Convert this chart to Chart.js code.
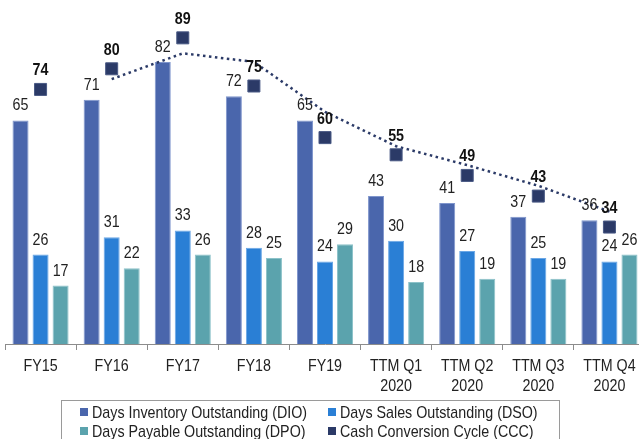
<!DOCTYPE html>
<html>
<head>
<meta charset="utf-8">
<script src="https://cdn.jsdelivr.net/npm/chart.js@4.4.0/dist/chart.umd.min.js"></script>
<style>
  html, body { margin: 0; padding: 0; background: #fff; overflow: hidden; }
  #wrap { width: 639px; height: 439px; overflow: hidden; }
</style>
</head>
<body>
<div id="wrap"><canvas id="ccc-chart" width="645" height="439"></canvas></div>
<script>
const categories = [["FY15"], ["FY16"], ["FY17"], ["FY18"], ["FY19"],
    ["TTM Q1", "2020"], ["TTM Q2", "2020"], ["TTM Q3", "2020"], ["TTM Q4", "2020"]];
const dioValues = [65, 71, 82, 72, 65, 43, 41, 37, 36];
const dsoValues = [26, 31, 33, 28, 24, 30, 27, 25, 24];
const dpoValues = [17, 22, 26, 25, 29, 18, 19, 19, 26];
const cccValues = [74, 80, 89, 75, 60, 55, 49, 43, 34];
// dotted trend (2 period moving average as drawn in the picture)
const cccTrend = [null, 77, 84.5, 82, 67.5, 57.5, 52, 46, 38.5];

const FONT = "'Liberation Sans', Arial, sans-serif";
const NARROW = 0.84; // no Arial Narrow here, so squeeze the text

function narrowText(ctx, text, x, y) {
    ctx.save();
    ctx.translate(x, y);
    ctx.scale(NARROW, 1);
    ctx.fillText(text, 0, 0);
    ctx.restore();
}

const valueLabels = {
    id: "valueLabels",
    afterDatasetsDraw(chart) {
        const ctx = chart.ctx;
        ctx.save();
        ctx.textAlign = "center";
        ctx.textBaseline = "alphabetic";
        chart.data.datasets.forEach((ds, i) => {
            if (ds.noLabels) return;
            const meta = chart.getDatasetMeta(i);
            meta.data.forEach((el, j) => {
                const v = ds.data[j];
                if (v == null) return;
                if (ds.type === "line") {
                    ctx.font = "bold 17px " + FONT;
                    ctx.fillStyle = "#111";
                    narrowText(ctx, String(v), el.x, el.y - 14);
                } else {
                    ctx.font = "17px " + FONT;
                    ctx.fillStyle = "#222";
                    narrowText(ctx, String(v), el.x, el.y - 10);
                }
            });
        });
        ctx.restore();
    }
};

const axisLabels = {
    id: "axisLabels",
    afterDraw(chart) {
        const ctx = chart.ctx;
        const xs = chart.scales.x;
        ctx.save();
        ctx.font = "17px " + FONT;
        ctx.fillStyle = "#222";
        ctx.textAlign = "center";
        ctx.textBaseline = "middle";
        chart.data.labels.forEach((lines, i) => {
            const x = xs.getPixelForValue(i);
            lines.forEach((t, k) => narrowText(ctx, t, x, 366 + k * 20));
        });
        ctx.restore();
    }
};

const boxLegend = {
    id: "boxLegend",
    afterDraw(chart) {
        const ctx = chart.ctx;
        ctx.save();
        ctx.strokeStyle = "#9a9a9a";
        ctx.lineWidth = 1;
        ctx.strokeRect(61.5, 400.5, 498, 60);
        const spots = [[80, 412], [328, 412], [80, 431], [328, 431]];
        ctx.font = "17px " + FONT;
        ctx.textBaseline = "middle";
        ctx.textAlign = "left";
        let k = 0;
        chart.data.datasets.forEach(ds => {
            if (ds.noLegend) return;
            const [x, y] = spots[k++];
            ctx.fillStyle = ds.legendColor;
            ctx.fillRect(x, y - 4, 8, 8);
            ctx.fillStyle = "#222";
            narrowText(ctx, ds.label, x + 12, y + 1);
        });
        ctx.restore();
    }
};

function initChart() {
    const ctx = document.getElementById("ccc-chart").getContext("2d");

    new Chart(ctx, {
        data: {
            labels: categories,
            datasets: [
                {
                    type: "bar",
                    label: "Days Inventory Outstanding (DIO)",
                    data: dioValues,
                    backgroundColor: "#4a66ac",
                    legendColor: "#4a66ac",
                    borderColor: "#7f95cc",
                    borderWidth: 1,
                    order: 3
                },
                {
                    type: "bar",
                    label: "Days Sales Outstanding (DSO)",
                    data: dsoValues,
                    backgroundColor: "#2a7fd5",
                    legendColor: "#2a7fd5",
                    borderColor: "#6aa7e6",
                    borderWidth: 1,
                    order: 3
                },
                {
                    type: "bar",
                    label: "Days Payable Outstanding (DPO)",
                    data: dpoValues,
                    backgroundColor: "#5ba3ad",
                    legendColor: "#5ba3ad",
                    borderColor: "#8cc2c9",
                    borderWidth: 1,
                    order: 3
                },
                {
                    type: "line",
                    label: "Cash Conversion Cycle (CCC)",
                    data: cccValues,
                    showLine: false,
                    pointStyle: "rect",
                    pointRadius: 8.5,
                    pointBackgroundColor: "#2b3a67",
                    pointBorderColor: "#4a5a85",
                    pointBorderWidth: 1,
                    legendColor: "#2b3a67",
                    order: 1
                },
                {
                    type: "line",
                    label: "Trend",
                    data: cccTrend,
                    borderColor: "#2b3a67",
                    borderWidth: 2.5,
                    borderDash: [2.5, 3.5],
                    pointRadius: 0,
                    fill: false,
                    tension: 0,
                    noLabels: true,
                    noLegend: true,
                    order: 2
                }
            ]
        },
        options: {
            responsive: false,
            animation: false,
            layout: {
                autoPadding: false,
                padding: { left: 5, right: 0, top: 0, bottom: 0 }
            },
            datasets: {
                bar: {
                    categoryPercentage: 0.845,
                    barPercentage: 0.8
                }
            },
            plugins: {
                legend: { display: false },
                tooltip: { enabled: false }
            },
            scales: {
                x: {
                    afterFit: s => { s.height = 95; },
                    border: { display: true, color: "#8c8c8c", width: 1 },
                    grid: {
                        offset: true,
                        drawOnChartArea: false,
                        drawTicks: true,
                        tickLength: 6,
                        color: "#8c8c8c"
                    },
                    ticks: {
                        color: "rgba(0,0,0,0)",
                        font: { family: FONT, size: 17 },
                        maxRotation: 0,
                        autoSkip: false
                    }
                },
                y: {
                    display: false,
                    min: 0,
                    max: 100
                }
            }
        },
        plugins: [valueLabels, axisLabels, boxLegend]
    });
}

initChart();
</script>
</body>
</html>
